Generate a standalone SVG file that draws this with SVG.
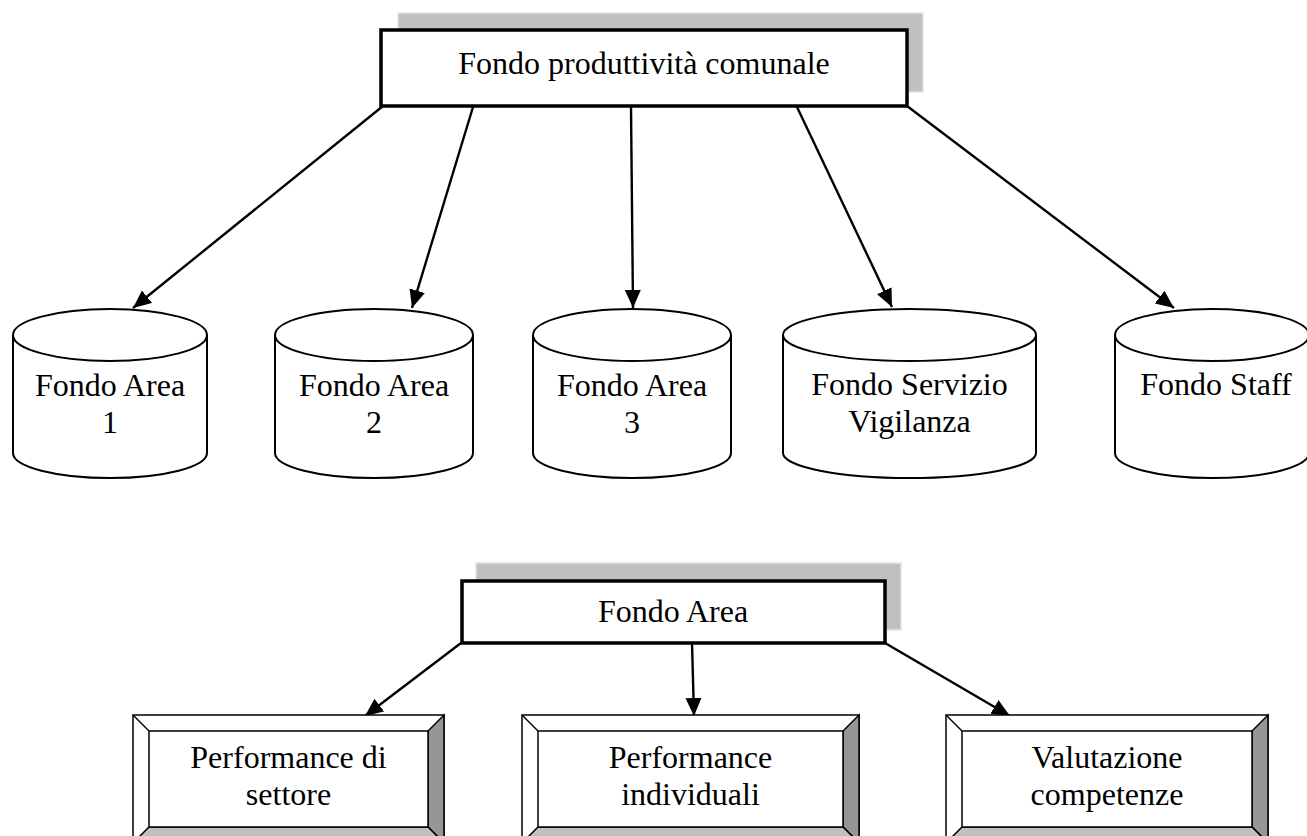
<svg xmlns="http://www.w3.org/2000/svg" width="1307" height="836" viewBox="0 0 1307 836">
<style>
text{font-family:"Liberation Serif","Times New Roman",serif;font-size:32px;fill:#000;text-anchor:middle}
.shadow{fill:#c0c0c0;stroke:#e4e4e4;stroke-width:1.5}
.box{fill:#fff;stroke:#000;stroke-width:3.5}
.cyl{fill:#fff;stroke:#000;stroke-width:2}
.conn{stroke:#000;stroke-width:2.4;fill:none;marker-end:url(#arr)}
.bev{stroke:#000;stroke-width:1.5;stroke-linejoin:miter}
</style>
<defs>
<marker id="arr" markerUnits="userSpaceOnUse" markerWidth="19" markerHeight="17" refX="18" refY="8" orient="auto">
<path d="M0,0 L18,8 L0,16 Z" fill="#000"/>
</marker>
</defs>
<rect width="1307" height="836" fill="#fff"/>

<g id="connectors">
<line class="conn" x1="383" y1="106" x2="133" y2="308"/>
<line class="conn" x1="473" y1="107" x2="412" y2="308"/>
<line class="conn" x1="631" y1="107" x2="633" y2="308"/>
<line class="conn" x1="797" y1="107" x2="892" y2="307"/>
<line class="conn" x1="907" y1="106" x2="1174" y2="308"/>
<line class="conn" x1="461" y1="643" x2="365" y2="716"/>
<line class="conn" x1="692" y1="643" x2="694" y2="716"/>
<line class="conn" x1="885" y1="643" x2="1010" y2="716"/>
</g>

<g id="fondo-produttivita">
<rect class="shadow" x="398" y="13" width="525" height="79"/>
<rect class="box" x="381" y="30" width="526" height="76"/>
<text x="644" y="74">Fondo produttività comunale</text>
</g>

<g id="area1">
<path class="cyl" d="M13,335 L13,453 A97,25 0 0 0 207,453 L207,335"/>
<ellipse class="cyl" cx="110" cy="335" rx="97" ry="26"/>
<text x="110" y="396">Fondo Area</text>
<text x="110" y="433">1</text>
</g>
<g id="area2">
<path class="cyl" d="M275,335 L275,453 A99,25 0 0 0 473,453 L473,335"/>
<ellipse class="cyl" cx="374" cy="335" rx="99" ry="26"/>
<text x="374" y="396">Fondo Area</text>
<text x="374" y="433">2</text>
</g>
<g id="area3">
<path class="cyl" d="M533,335 L533,453 A99,25 0 0 0 731,453 L731,335"/>
<ellipse class="cyl" cx="632" cy="335" rx="99" ry="26"/>
<text x="632" y="396">Fondo Area</text>
<text x="632" y="433">3</text>
</g>
<g id="vigilanza">
<path class="cyl" d="M783,335 L783,453 A126.5,25 0 0 0 1036,453 L1036,335"/>
<ellipse class="cyl" cx="909.5" cy="335" rx="126.5" ry="26"/>
<text x="909.5" y="395">Fondo Servizio</text>
<text x="909.5" y="432">Vigilanza</text>
</g>
<g id="staff">
<path class="cyl" d="M1115,335 L1115,453 A97,25 0 0 0 1309,453 L1309,335"/>
<ellipse class="cyl" cx="1212" cy="335" rx="97" ry="26"/>
<text x="1216" y="395">Fondo Staff</text>
</g>

<g id="fondo-area">
<rect class="shadow" x="476" y="563" width="425" height="67"/>
<rect class="box" x="462" y="581" width="423" height="62"/>
<text x="673" y="622">Fondo Area</text>
</g>

<g id="perf-settore">
<rect class="bev" x="133" y="715" width="311" height="128" fill="#fff"/>
<polygon class="bev" points="444,715 444,843 428,827 428,731" fill="#969696"/>
<polygon class="bev" points="133,843 444,843 428,827 149,827" fill="#c0c0c0"/>
<line class="bev" x1="133" y1="715" x2="149" y2="731"/>
<rect class="bev" x="149" y="731" width="279" height="96" fill="#fff"/>
<text x="288.5" y="768">Performance di</text>
<text x="288.5" y="805">settore</text>
</g>
<g id="perf-individuali">
<rect class="bev" x="522" y="715" width="337" height="128" fill="#fff"/>
<polygon class="bev" points="859,715 859,843 843,827 843,731" fill="#969696"/>
<polygon class="bev" points="522,843 859,843 843,827 538,827" fill="#c0c0c0"/>
<line class="bev" x1="522" y1="715" x2="538" y2="731"/>
<rect class="bev" x="538" y="731" width="305" height="96" fill="#fff"/>
<text x="690.5" y="768">Performance</text>
<text x="690.5" y="805">individuali</text>
</g>
<g id="valutazione">
<rect class="bev" x="946" y="715" width="322" height="128" fill="#fff"/>
<polygon class="bev" points="1268,715 1268,843 1252,827 1252,731" fill="#969696"/>
<polygon class="bev" points="946,843 1268,843 1252,827 962,827" fill="#c0c0c0"/>
<line class="bev" x1="946" y1="715" x2="962" y2="731"/>
<rect class="bev" x="962" y="731" width="290" height="96" fill="#fff"/>
<text x="1107" y="768">Valutazione</text>
<text x="1107" y="805">competenze</text>
</g>
</svg>
